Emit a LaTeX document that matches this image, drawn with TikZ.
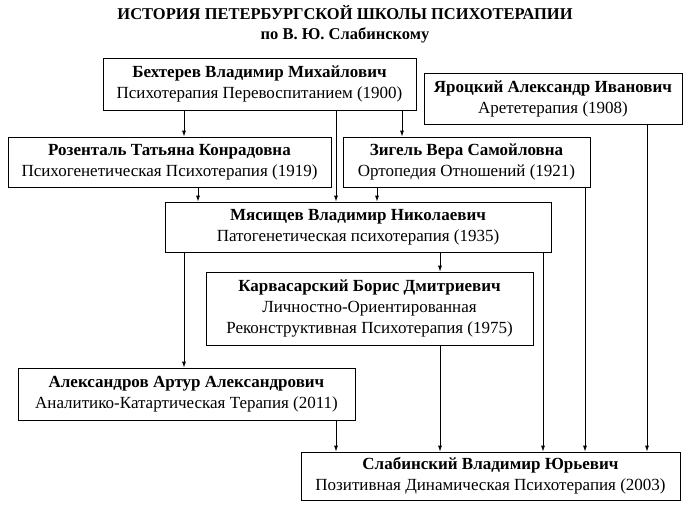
\documentclass[tikz,border=0pt]{standalone}
\usepackage{fontspec}
\setmainfont{Liberation Serif}
\usetikzlibrary{arrows.meta}
\begin{document}
\begin{tikzpicture}[
  x=1pt, y=-1pt,
  >={Latex[length=6pt,width=4pt]},
  person/.style={rectangle, draw, thick, align=center, inner sep=1pt, font=\fontsize{17}{21}\selectfont},
  arrow/.style={->, thick}
]
\useasboundingbox (0,0) rectangle (690,508);

% Title
\node[font=\fontsize{16.5}{20}\selectfont\bfseries, align=center] (title) at (345,24) {ИСТОРИЯ ПЕТЕРБУРГСКОЙ ШКОЛЫ ПСИХОТЕРАПИИ\\по В. Ю. Слабинскому};

% People
\node[person, minimum width=313, minimum height=52] (bekh) at (259.5,84) {\textbf{Бехтерев Владимир Михайлович}\\Психотерапия Перевоспитанием (1900)};
\node[person, minimum width=258, minimum height=51] (yar) at (553,98.5) {\textbf{Яроцкий Александр Иванович}\\Арететерапия (1908)};
\node[person, minimum width=323, minimum height=50] (ros) at (169.5,162) {\textbf{Розенталь Татьяна Конрадовна}\\Психогенетическая Психотерапия (1919)};
\node[person, minimum width=247, minimum height=50] (zig) at (466.5,162) {\textbf{Зигель Вера Самойловна}\\Ортопедия Отношений (1921)};
\node[person, minimum width=386, minimum height=50] (mya) at (358,227) {\textbf{Мясищев Владимир Николаевич}\\Патогенетическая психотерапия (1935)};
\node[person, minimum width=327, minimum height=73] (karv) at (369.5,308.5) {\textbf{Карвасарский Борис Дмитриевич}\\Личностно-Ориентированная\\Реконструктивная Психотерапия (1975)};
\node[person, minimum width=337, minimum height=52] (alex) at (186.5,394) {\textbf{Александров Артур Александрович}\\Аналитико-Катартическая Терапия (2011)};
\node[person, minimum width=379, minimum height=48] (slab) at (490.5,476) {\textbf{Слабинский Владимир Юрьевич}\\Позитивная Динамическая Психотерапия (2003)};

% Arrows
\draw[arrow] (bekh.south -| 184,0) -- (ros.north -| 184,0);
\draw[arrow] (bekh.south -| 336,0) -- (mya.north -| 336,0);
\draw[arrow] (bekh.south -| 402,0) -- (zig.north -| 402,0);
\draw[arrow] (ros.south -| 198,0) -- (mya.north -| 198,0);
\draw[arrow] (zig.south -| 377,0) -- (mya.north -| 377,0);
\draw[arrow] (mya.south -| 184,0) -- (alex.north -| 184,0);
\draw[arrow] (mya.south -| 440,0) -- (karv.north -| 440,0);
\draw[arrow] (mya.south -| 543,0) -- (slab.north -| 543,0);
\draw[arrow] (zig.south -| 585,0) -- (slab.north -| 585,0);
\draw[arrow] (yar.south -| 647,0) -- (slab.north -| 647,0);
\draw[arrow] (karv.south -| 440,0) -- (slab.north -| 440,0);
\draw[arrow] (alex.south -| 336,0) -- (slab.north -| 336,0);

\end{tikzpicture}
\end{document}
